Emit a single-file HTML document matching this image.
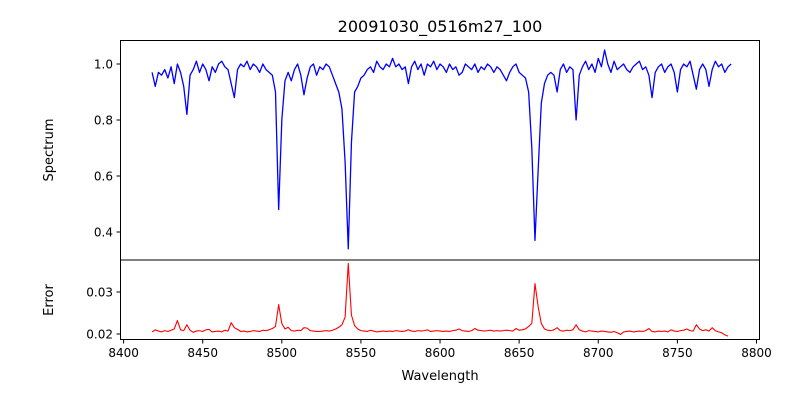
<!DOCTYPE html>
<html><head><meta charset="utf-8"><style>
body{margin:0;background:#fff;font-family:"Liberation Sans","DejaVu Sans",sans-serif;}
svg text{font-family:"DejaVu Sans","Liberation Sans",sans-serif;}
</style></head><body>
<svg id="c" width="800" height="400" xmlns="http://www.w3.org/2000/svg">
<rect x="0" y="0" width="800" height="400" fill="#fff"/>
<text x="440" y="32" font-size="16" text-anchor="middle">20091030_0516m27_100</text>
<text x="53" y="150" font-size="13" text-anchor="middle" transform="rotate(-90 53 150)">Spectrum</text>
<text x="53" y="300" font-size="13" text-anchor="middle" transform="rotate(-90 53 300)">Error</text>
<text x="440" y="380" font-size="13" text-anchor="middle">Wavelength</text>
<g id="g"></g>
</svg>
<script>
const waveStart = 8418;
const waveStep = 2;
const flux = [.97,.92,.97,.96,.98,.95,.99,.93,1.00,.97,.92,.82,.96,.98,1.01,.97,1.00,.98,.94,.99,.97,1.00,1.01,.99,.98,.93,.88,.98,1.00,.99,1.01,.98,1.00,.99,.97,1.00,.98,.97,.96,.90,.48,.80,.94,.97,.94,.98,1.00,.96,.89,.95,.99,1.00,.96,.99,.98,1.00,.99,.96,.93,.90,.84,.65,.34,.72,.90,.92,.95,.96,.98,.99,.97,1.01,.99,.98,1.00,.99,1.02,.99,1.00,.98,.99,.93,.99,1.01,.98,1.00,.96,1.00,.99,1.01,.98,1.00,.99,.97,1.00,.98,.99,.96,.97,1.00,.99,.98,1.00,.97,.99,.98,1.00,.99,.97,.99,.98,.96,.94,.97,.99,1.00,.97,.96,.95,.90,.70,.37,.62,.86,.93,.96,.97,.96,.90,.98,1.00,.97,.99,.98,.80,.96,.99,1.01,.98,1.00,.97,1.02,.99,1.05,1.00,.97,1.01,.98,.99,1.00,.98,.97,.99,1.00,1.01,.98,.99,.96,.88,.97,.99,1.00,.97,.99,1.00,.97,.90,.98,1.00,.99,1.01,.96,.91,.98,1.00,.98,.92,.98,1.01,.99,1.00,.97,.99,1.00];
const err = [.0205,.0210,.0207,.0205,.0208,.0206,.0209,.0212,.0232,.0210,.0208,.0222,.0209,.0204,.0207,.0208,.0206,.0210,.0211,.0205,.0206,.0207,.0205,.0209,.0207,.0227,.0215,.0211,.0206,.0207,.0205,.0206,.0208,.0207,.0206,.0209,.0208,.0210,.0213,.0218,.0270,.0225,.0212,.0216,.0208,.0207,.0209,.0208,.0215,.0214,.0208,.0207,.0206,.0206,.0207,.0208,.0207,.0209,.0212,.0216,.0222,.0240,.0368,.0245,.0220,.0212,.0208,.0207,.0206,.0209,.0207,.0205,.0206,.0207,.0206,.0207,.0206,.0208,.0207,.0206,.0207,.0210,.0207,.0206,.0208,.0207,.0208,.0210,.0206,.0207,.0208,.0207,.0206,.0207,.0206,.0208,.0209,.0212,.0208,.0207,.0206,.0208,.0213,.0209,.0208,.0207,.0208,.0209,.0207,.0208,.0207,.0208,.0209,.0208,.0207,.0213,.0209,.0210,.0212,.0218,.0225,.0320,.0265,.0225,.0212,.0209,.0208,.0210,.0215,.0208,.0207,.0209,.0208,.0210,.0222,.0210,.0207,.0205,.0208,.0207,.0206,.0205,.0207,.0206,.0205,.0204,.0206,.0203,.0199,.0205,.0206,.0207,.0205,.0206,.0207,.0206,.0208,.0213,.0206,.0205,.0207,.0206,.0207,.0205,.0210,.0207,.0206,.0208,.0209,.0212,.0208,.0207,.0222,.0212,.0208,.0210,.0207,.0215,.0208,.0205,.0203,.0198,.0195];
const xTicks = [8400,8450,8500,8550,8600,8650,8700,8750,8800];
const topTicks = [0.4,0.6,0.8,1.0];
const botTicks = [0.02,0.03];

const NS = "http://www.w3.org/2000/svg";
const g = document.getElementById('g');
const X = w => 123.6 + (w - 8400) * 1.5822;
const YT = v => 64 + (1.0 - v) * 280;
const YB = v => 334 - (v - 0.02) * 4200;
function mk(tag, attrs){const e=document.createElementNS(NS,tag);for(const k in attrs)e.setAttribute(k,attrs[k]);g.appendChild(e);return e;}

let d1='';flux.forEach((v,i)=>{d1+=(i?'L':'M')+X(waveStart+waveStep*i).toFixed(2)+' '+YT(v).toFixed(2);});
const p1=mk('path',{d:d1,fill:'none',stroke:'#0000ff','stroke-width':1.3,'stroke-linejoin':'round'});


let d2='';err.forEach((v,i)=>{d2+=(i?'L':'M')+X(waveStart+waveStep*i).toFixed(2)+' '+YB(v).toFixed(2);});
const p2=mk('path',{d:d2,fill:'none',stroke:'#ff0000','stroke-width':1.1,'stroke-linejoin':'round'});



const f1=mk('rect',{x:120.5,y:40.5,width:639,height:219.5,fill:'none',stroke:'#000','stroke-width':1});


const f2=mk('rect',{x:120.5,y:260,width:639,height:79.5,fill:'none',stroke:'#000','stroke-width':1});



xTicks.forEach(t=>{const x=X(t);
 mk('line',{x1:x,x2:x,y1:340,y2:343.5,stroke:'#000'});
 const tx=mk('text',{x:x,y:357,'font-size':12,'text-anchor':'middle'});tx.textContent=t;
 
 
});
topTicks.forEach(t=>{const y=YT(t);
 mk('line',{x1:116.5,x2:120.5,y1:y,y2:y,stroke:'#000'});
 const tx=mk('text',{x:113,y:y+4.5,'font-size':12,'text-anchor':'end'});tx.textContent=t.toFixed(1);
 
 
});
botTicks.forEach(t=>{const y=YB(t);
 mk('line',{x1:116.5,x2:120.5,y1:y,y2:y,stroke:'#000'});
 const tx=mk('text',{x:113,y:y+4.5,'font-size':12,'text-anchor':'end'});tx.textContent=t.toFixed(2);
 
 
});
</script>
</body></html>
